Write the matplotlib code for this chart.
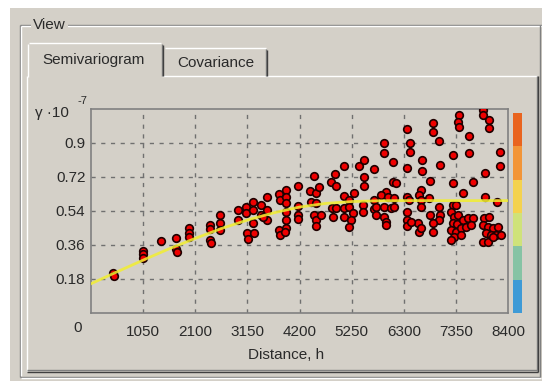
import numpy as np
import matplotlib
matplotlib.use('Agg')
import matplotlib.pyplot as plt
from matplotlib.patches import Rectangle

# Empirical semivariogram cloud (distance, gamma * 1e7)
lag_dist = [
    440, 455,
    1040, 1040, 1045, 1410, 1712, 1712, 1730, 1967, 1967, 1967,
    2397, 2397, 2397, 2410, 2605, 2605, 2605, 2954, 2954,
    3122, 3122, 3140, 3155, 3256, 3256, 3256, 3276, 3424, 3424,
    3545, 3545, 3545, 3458, 3793, 3813, 3793, 3813,
    3927, 3927, 3927, 3927, 3927, 3927, 3900,
    4170, 4170, 4170, 4170, 4411, 4431, 4497, 4532, 4598, 4530, 4497, 4532, 4532, 4632,
    4834, 4921, 4934, 4850, 4880, 4934,
    5102, 5102, 5102, 5102, 5203, 5303, 5203, 5270, 5236, 5203,
    5404, 5491, 5491, 5491, 5470, 5470, 5706, 5706, 5706, 5740, 5740,
    5908, 5908, 6076, 5942, 6076, 6143, 5840, 5975, 6110, 5908, 6042, 6110, 5908, 5942, 5942,
    6364, 6431, 6431, 6364, 6666, 6666, 6834, 6364, 6400, 6640, 6600, 6640, 6800,
    6364, 6364, 6364, 6640, 6579, 6613, 6646, 6445, 6834,
    6882, 6882, 7016, 7284, 7035, 7016, 7035, 7016, 6882, 6882,
    7284, 7486, 7687, 7418, 7400, 7418, 7620, 7607, 7284, 7350,
    7252, 7305, 7398, 7284, 7372, 7486, 7587, 7687, 7252, 7352, 7452, 7553, 7318, 7252, 7452, 7653,
    7889, 7889, 8023, 8023, 8244, 8244, 7942, 7942, 8177,
    7922, 8023, 7889, 7989, 8090, 8190, 7956, 8056, 8157, 8257, 7889, 7989, 8090,
]
gamma_vals = [
    0.210, 0.195,
    0.330, 0.310, 0.290, 0.381, 0.395, 0.337, 0.325, 0.448, 0.425, 0.400,
    0.466, 0.443, 0.386, 0.372, 0.519, 0.475, 0.440, 0.545, 0.492,
    0.560, 0.528, 0.425, 0.390, 0.590, 0.545, 0.475, 0.422, 0.572, 0.519,
    0.612, 0.545, 0.492, 0.510, 0.630, 0.598, 0.439, 0.413,
    0.651, 0.616, 0.581, 0.536, 0.492, 0.448, 0.430,
    0.672, 0.568, 0.519, 0.500, 0.647, 0.590, 0.725, 0.637, 0.669, 0.581, 0.519, 0.492, 0.460, 0.519,
    0.695, 0.736, 0.672, 0.554, 0.510, 0.554,
    0.778, 0.619, 0.554, 0.510, 0.598, 0.637, 0.563, 0.528, 0.492, 0.454,
    0.778, 0.810, 0.722, 0.672, 0.572, 0.536, 0.761, 0.598, 0.549, 0.560, 0.519,
    0.898, 0.845, 0.801, 0.642, 0.695, 0.687, 0.625, 0.616, 0.607, 0.563, 0.554, 0.563, 0.510, 0.483, 0.466,
    0.972, 0.898, 0.854, 0.766, 0.810, 0.752, 0.700, 0.616, 0.598, 0.651, 0.625, 0.598, 0.607,
    0.536, 0.492, 0.460, 0.563, 0.475, 0.430, 0.448, 0.483, 0.519,
    1.007, 0.960, 0.910, 0.836, 0.783, 0.563, 0.519, 0.492, 0.475, 0.430,
    0.687, 0.634, 0.695, 1.048, 1.013, 0.983, 0.939, 0.849, 0.572, 0.572,
    0.536, 0.510, 0.519, 0.475, 0.471, 0.492, 0.501, 0.501, 0.439, 0.430, 0.448, 0.457, 0.404, 0.386, 0.413, 0.466,
    1.075, 1.048, 1.022, 0.978, 0.854, 0.778, 0.743, 0.616, 0.590,
    0.501, 0.510, 0.466, 0.457, 0.448, 0.457, 0.422, 0.413, 0.413, 0.413, 0.377, 0.377, 0.404,
]

# Fitted model curve
model_dist = [0, 525, 1050, 1575, 2100, 2625, 3150, 3675, 4200, 4725, 5250, 5775, 6300, 7350, 8400]
model_gamma = [0.155, 0.218, 0.280, 0.340, 0.395, 0.447, 0.492, 0.530, 0.561, 0.580, 0.590, 0.594, 0.595, 0.595, 0.595]

x_ticks = [1050, 2100, 3150, 4200, 5250, 6300, 7350, 8400]
y_ticks = [0.18, 0.36, 0.54, 0.72, 0.9]
y_tick_labels = ['0.18', '0.36', '0.54', '0.72', '0.9']

legend_colors = ['#3e9ad6', '#86c3a4', '#cfe27a', '#f4d24e', '#f29538', '#e9641f']

W, H = 542, 381
BG = '#d4d0c8'
DARK = '#808080'
TXT = '#2a2a2a'
FONT = 'Liberation Sans'
FS = 11

fig = plt.figure(figsize=(W / 100, H / 100), dpi=100, facecolor=BG)

# dialog chrome drawn in pixel coordinates
chrome = fig.add_axes([0, 0, 1, 1])
chrome.set_xlim(0, W)
chrome.set_ylim(H, 0)
chrome.axis('off')
chrome.add_patch(Rectangle((0, 0), W, 8, color='white', lw=0))
chrome.add_patch(Rectangle((0, 0), 10, H, color='white', lw=0))


def line(x, y, c, lw=1.0):
    chrome.plot(x, y, color=c, lw=lw, solid_capstyle='butt')


# group box "View"
line([20, W], [25, 25], DARK)
line([21, W], [26, 26], 'white')
line([20, 20], [25, 377], DARK)
line([21, 21], [26, 376], 'white')
line([20, 540], [377, 377], DARK)
line([21, 541], [378, 378], 'white')
line([540, 540], [25, 377], DARK)
chrome.text(33, 25, 'View', family=FONT, fontsize=FS, va='center', ha='left',
            color=TXT, bbox=dict(facecolor=BG, edgecolor='none', pad=1.5))

# tab page
line([27, 27], [76, 371], 'white')
line([162, 537], [76, 76], 'white')
line([537, 537], [76, 371], DARK)
line([538, 538], [76, 372], '#404040')
line([27, 537], [370, 370], DARK)
line([27, 538], [371.5, 371.5], '#404040')

# selected tab
line([28, 28], [44, 77], 'white')
line([29, 161], [43, 43], 'white')
line([162, 162], [44, 76], DARK)
line([163, 163], [45, 76], '#404040')
chrome.text(94, 60, 'Semivariogram', family=FONT, fontsize=FS, ha='center', va='center', color=TXT)

# second tab
line([165, 266], [48, 48], 'white')
line([266, 266], [49, 76], DARK)
line([267, 267], [50, 76], '#404040')
chrome.text(216, 63, 'Covariance', family=FONT, fontsize=FS, ha='center', va='center', color=TXT)

# axis caption
chrome.text(35, 113, 'γ ·10', family=FONT, fontsize=FS, ha='left', va='center', color=TXT)
chrome.text(77, 101, '-7', family=FONT, fontsize=8, ha='left', va='center', color=TXT)
chrome.text(78, 328, '0', family=FONT, fontsize=FS, ha='center', va='center', color=TXT)
chrome.text(286, 355, 'Distance, h', family=FONT, fontsize=FS, ha='center', va='center', color=TXT)

# main plot area
left, right, top, bottom = 91, 508, 109, 313
ax = fig.add_axes([left / W, 1 - bottom / H, (right - left) / W, (bottom - top) / H])
ax.set_facecolor(BG)
ax.set_xlim(0, 8400)
ax.set_ylim(0, 1.08)
for s in ax.spines.values():
    s.set_color(DARK)
    s.set_linewidth(1.2)

ax.set_xticks(x_ticks)
ax.set_xticklabels([str(t) for t in x_ticks])
ax.set_yticks(y_ticks)
ax.set_yticklabels(y_tick_labels)
ax.tick_params(length=0, labelsize=FS, labelcolor=TXT)
ax.tick_params(axis='x', pad=9)
ax.tick_params(axis='y', pad=4)
for lab in ax.get_xticklabels() + ax.get_yticklabels():
    lab.set_family(FONT)

for xv in x_ticks[:-1]:
    ax.axvline(xv, color='#707070', lw=1, ls=(0, (3, 4)), zorder=1)
for yv in y_ticks:
    ax.axhline(yv, color='#707070', lw=1, ls=(0, (3, 4)), zorder=1)

ax.scatter(lag_dist, gamma_vals, s=30, c='#ee0000', edgecolors='#1e0000',
           linewidths=1.2, zorder=3)
ax.plot(model_dist, model_gamma, color='#f2ee30', lw=2, alpha=0.85, zorder=4)

# colour legend strip
cax = fig.add_axes([513 / W, 1 - 313 / H, 9 / W, (313 - 113) / H])
cax.set_xlim(0, 1)
cax.set_ylim(0, len(legend_colors))
cax.axis('off')
for i, c in enumerate(legend_colors):
    cax.add_patch(Rectangle((0, i), 1, 1, color=c, lw=0))

fig.savefig('out.png', dpi=100, facecolor=BG)
